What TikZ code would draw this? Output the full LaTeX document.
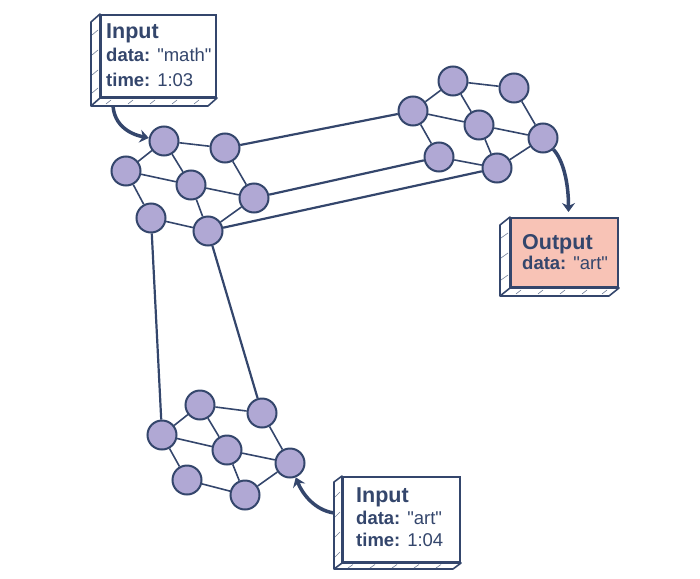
\documentclass[tikz,border=0pt]{standalone}
\usepackage{fontspec}
\newfontfamily\boxfont{Liberation Sans}
\usetikzlibrary{arrows.meta}
\definecolor{navy}{HTML}{34466C}
\definecolor{lav}{HTML}{B0A8D4}
\definecolor{pinkf}{HTML}{F8C3B6}
\begin{document}
\begin{tikzpicture}[x=1pt,y=-1pt,
 nd/.style={circle,draw=navy,fill=lav,line width=2pt,minimum size=29pt,inner sep=0pt},
 ed/.style={draw=navy,line width=1.6pt},
 lk/.style={draw=navy,line width=2.2pt},
 arr/.style={draw=navy,line width=3.5pt,-{Stealth[length=9pt,width=13pt,inset=3pt]}},
 box/.style={draw=navy,line width=2pt,fill=white,inner sep=0pt},
 side/.style={draw=navy,line width=1.6pt,fill=white,line join=round},
 hatch/.style={draw=navy!70,line width=0.6pt},
 big/.style={text=navy,font=\boxfont\fontsize{21.5}{23}\selectfont\bfseries,inner sep=0pt,anchor=base west},
 sm/.style={text=navy,font=\boxfont\fontsize{18.5}{20}\selectfont,inner sep=0pt,anchor=base west}]
\useasboundingbox (0,0) rectangle (700,578);

% boxes
\node[box,minimum width=115pt,minimum height=82pt] (in1) at (158.5,56) {};
\draw[side] (in1.north west) -- ([shift={(-9,8)}]in1.north west) -- ([shift={(-9,8)}]in1.south west) -- ([shift={(-9,8)}]in1.south east) -- (in1.south east) -- (in1.south west) -- cycle;
\draw[side] (in1.south west) -- ([shift={(-9,8)}]in1.south west);
\foreach \y in {16,36,56,74} \draw[hatch] ([shift={(-8,\y+5)}]in1.north west) -- ([shift={(-2,\y)}]in1.north west);
\foreach \x in {10,32,54,76,98} \draw[hatch] ([shift={(\x-4,6)}]in1.south west) -- ([shift={(\x+1,2)}]in1.south west);
\node[big] (in1a) at ([shift={(6,25)}]in1.north west) {Input};
\node[sm] (in1b) at ([shift={(6,47)}]in1.north west) {\textbf{data:} "math"};
\node[sm] (in1c) at ([shift={(6,72)}]in1.north west) {\textbf{time:} 1:03};

\node[box,fill=pinkf,minimum width=107pt,minimum height=69pt] (outb) at (564.5,252.5) {};
\draw[side] (outb.north west) -- ([shift={(-10,8)}]outb.north west) -- ([shift={(-10,8)}]outb.south west) -- ([shift={(-10,8)}]outb.south east) -- (outb.south east) -- (outb.south west) -- cycle;
\draw[side] (outb.south west) -- ([shift={(-10,8)}]outb.south west);
\foreach \y in {16,36,58} \draw[hatch] ([shift={(-9,\y+5)}]outb.north west) -- ([shift={(-2,\y)}]outb.north west);
\foreach \x in {10,32,54,76,96} \draw[hatch] ([shift={(\x-4,6)}]outb.south west) -- ([shift={(\x+1,2)}]outb.south west);
\node[big] (outa) at ([shift={(12,32)}]outb.north west) {Output};
\node[sm] (outc) at ([shift={(12,52)}]outb.north west) {\textbf{data:} "art"};

\node[box,minimum width=117pt,minimum height=85pt] (in2) at (401.5,519.5) {};
\draw[side] (in2.north west) -- ([shift={(-8,6)}]in2.north west) -- ([shift={(-8,6)}]in2.south west) -- ([shift={(-8,6)}]in2.south east) -- (in2.south east) -- (in2.south west) -- cycle;
\draw[side] (in2.south west) -- ([shift={(-8,6)}]in2.south west);
\foreach \y in {16,36,56,76} \draw[hatch] ([shift={(-7,\y+5)}]in2.north west) -- ([shift={(-2,\y)}]in2.north west);
\foreach \x in {10,32,54,76,98} \draw[hatch] ([shift={(\x-4,5)}]in2.south west) -- ([shift={(\x+1,1.5)}]in2.south west);
\node[big] (in2a) at ([shift={(14,26)}]in2.north west) {Input};
\node[sm] (in2b) at ([shift={(14,48)}]in2.north west) {\textbf{data:} "art"};
\node[sm] (in2c) at ([shift={(14,70)}]in2.north west) {\textbf{time:} 1:04};

% left cluster
\node[nd] (A) at (164,141) {};
\node[nd] (B) at (225,148) {};
\node[nd] (C) at (126,171) {};
\node[nd] (D) at (191,185) {};
\node[nd] (E) at (254,198) {};
\node[nd] (F) at (151,218) {};
\node[nd] (G) at (208,231) {};
% right cluster
\node[nd] (P) at (453,81) {};
\node[nd] (Q) at (514,88) {};
\node[nd] (R) at (413,111) {};
\node[nd] (S) at (479,125) {};
\node[nd] (T) at (543,138) {};
\node[nd] (U) at (439,157) {};
\node[nd] (V) at (497,168) {};
% bottom cluster
\node[nd] (a) at (200,405) {};
\node[nd] (b) at (262,413) {};
\node[nd] (c) at (162,435) {};
\node[nd] (d) at (227,450) {};
\node[nd] (e) at (290,463) {};
\node[nd] (f) at (187,480) {};
\node[nd] (g) at (245,495) {};

\foreach \p/\q/\r/\s/\t/\u/\v in {A/B/C/D/E/F/G,P/Q/R/S/T/U/V,a/b/c/d/e/f/g}{
  \draw[ed] (\p)--(\q) (\p)--(\r) (\p)--(\s) (\q)--(\t) (\r)--(\s) (\s)--(\t)
            (\r)--(\u) (\s)--(\v) (\u)--(\v) (\t)--(\v);
}
% long links
\draw[lk] (B) -- (R);
\draw[lk] (E) -- (U);
\draw[lk] (G) -- (V);
\draw[lk] (F) -- (c);
\draw[lk] (G) -- (b);

% arrows
\draw[arr] ([shift={(13,8)}]in1.south west) .. controls +(2,25) and +(-25,-5) .. (A);
\draw[arr] (T) .. controls +(20,22) and +(0,-30) .. ([shift={(4,-5)}]outb.north);
\draw[arr] ([shift={(-8,37)}]in2.north west) .. controls +(-20,-3) and +(12,30) .. (e);
\end{tikzpicture}
\end{document}
